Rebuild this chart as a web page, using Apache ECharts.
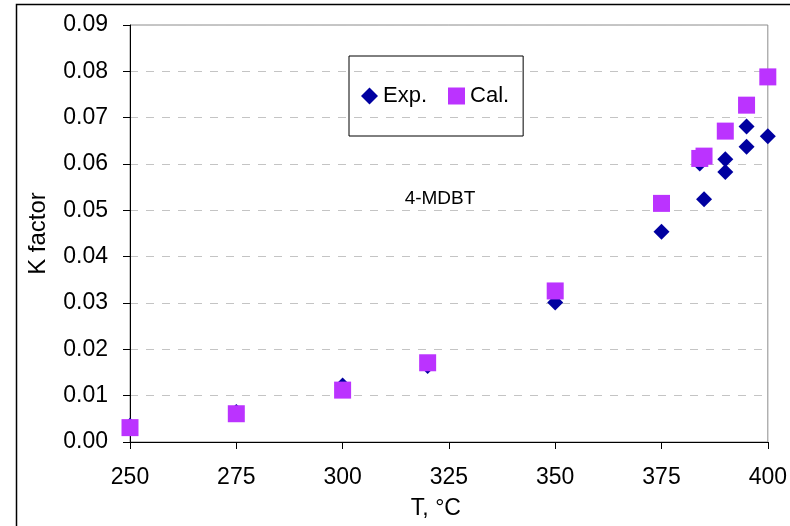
<!DOCTYPE html>
<html>
<head>
<meta charset="utf-8">
<script src="https://cdn.jsdelivr.net/npm/echarts@6/dist/echarts.min.js"></script>
<style>
  html, body { margin: 0; padding: 0; background: #fff; }
  #chart { width: 790px; height: 526px; }
</style>
</head>
<body>
<div id="chart"></div>
<script>
// Temperature (°C) and K factor for 4-MDBT: experimental vs calculated
const tempExp = [250, 275, 300, 320, 350, 375, 384, 385, 390, 390, 395, 395, 400];
const kExp    = [0.0035, 0.0065, 0.0122, 0.0164, 0.0301, 0.0454, 0.0601, 0.0524, 0.0610, 0.0583, 0.0681, 0.0637, 0.0660];

const tempCal = [250, 275, 300, 320, 350, 375, 384, 385, 390, 395, 400];
const kCal    = [0.0031, 0.0061, 0.0112, 0.0171, 0.0326, 0.0515, 0.0612, 0.0617, 0.0671, 0.0727, 0.0788];

const xTicks = { min: 250, max: 400, step: 25 };
const yTicks = { min: 0, max: 0.09, step: 0.01 };

const FONT = '"Liberation Sans", Arial, sans-serif';

const pairs = (xs, ys) => xs.map((x, i) => [x, ys[i]]);

const chart = echarts.init(document.getElementById('chart'), null, { renderer: 'canvas' });

chart.setOption({
  animation: false,
  backgroundColor: '#ffffff',
  textStyle: { fontFamily: FONT },
  grid: {
    left: 130, right: 22, top: 25, bottom: 84,
    show: true,
    borderColor: '#8c8c8c',
    borderWidth: 1,
    backgroundColor: 'transparent'
  },
  xAxis: {
    type: 'value',
    min: xTicks.min, max: xTicks.max, interval: xTicks.step,
    name: 'T, °C',
    nameLocation: 'middle',
    nameGap: 55,
    nameTextStyle: { fontFamily: FONT, fontSize: 23, color: '#000', padding: [0, 26, 0, 0] },
    axisLine: { show: true, onZero: false, lineStyle: { color: '#000', width: 1 } },
    axisTick: { show: true, length: 7, lineStyle: { color: '#000', width: 1 } },
    axisLabel: { fontFamily: FONT, fontSize: 23, color: '#000', margin: 24 },
    splitLine: { show: false }
  },
  yAxis: {
    type: 'value',
    min: yTicks.min, max: yTicks.max, interval: yTicks.step,
    name: 'K factor',
    nameLocation: 'middle',
    nameGap: 80,
    nameRotate: 90,
    nameTextStyle: { fontFamily: FONT, fontSize: 24, color: '#000' },
    axisLine: { show: true, onZero: false, lineStyle: { color: '#000', width: 1 } },
    axisTick: { show: true, length: 7, lineStyle: { color: '#000', width: 1 } },
    axisLabel: {
      fontFamily: FONT, fontSize: 23, color: '#000', margin: 22,
      formatter: v => v.toFixed(2)
    },
    splitLine: { show: true, lineStyle: { color: '#c4c4c4', width: 1, type: [8, 8] } }
  },
  legend: {
    left: 349, top: 56,
    orient: 'horizontal',
    padding: [29, 14, 29, 12],
    borderColor: '#000',
    borderWidth: 1,
    itemGap: 21,
    itemWidth: 17,
    itemHeight: 17,
    textStyle: { fontFamily: FONT, fontSize: 22, color: '#000' },
    data: [
      { name: 'Exp.', icon: 'diamond' },
      { name: 'Cal.', icon: 'rect' }
    ]
  },
  graphic: [
    {
      type: 'rect',
      silent: true,
      shape: { x: 16.5, y: 4.5, width: 900, height: 700 },
      style: { fill: 'none', stroke: '#000', lineWidth: 1.5 },
      z: 100
    },
    {
      type: 'text',
      silent: true,
      x: 440, y: 199,
      style: {
        text: '4-MDBT',
        fontFamily: FONT, fontSize: 19, fill: '#000',
        textAlign: 'center', textVerticalAlign: 'middle'
      }
    }
  ],
  series: [
    {
      name: 'Exp.',
      type: 'scatter',
      symbol: 'diamond',
      symbolSize: 16,
      itemStyle: { color: '#0000a0', opacity: 1 },
      data: pairs(tempExp, kExp),
      z: 2
    },
    {
      name: 'Cal.',
      type: 'scatter',
      symbol: 'rect',
      symbolSize: 17,
      itemStyle: { color: '#bb33ff', opacity: 1 },
      data: pairs(tempCal, kCal),
      z: 3
    }
  ]
});
</script>
</body>
</html>
